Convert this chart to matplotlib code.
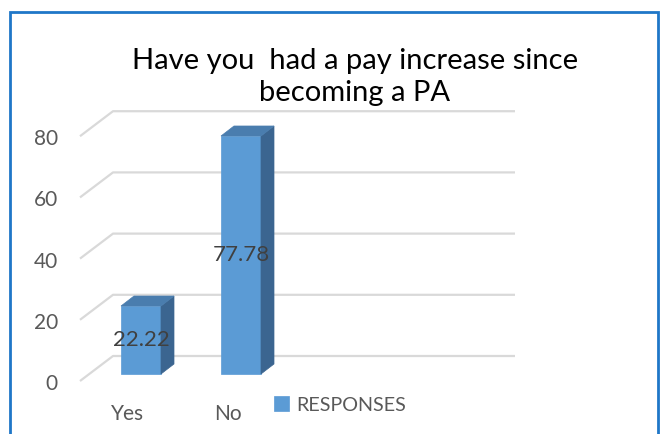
import matplotlib.pyplot as plt
from matplotlib.patches import Polygon, Rectangle

categories = ['Yes', 'No']
responses = [22.22, 77.78]
yticks = [0, 20, 40, 60, 80]
series_name = 'RESPONSES'
title = 'Have you  had a pay increase since\nbecoming a PA'

plt.rcParams['font.family'] = ['Lato', 'DejaVu Sans']

W, H = 665, 434
fig = plt.figure(figsize=(W / 100, H / 100), dpi=100)
ax = fig.add_axes([0, 0, 1, 1])

# x in category units (100 px each), y in value units (3.06 px each)
px_x, px_y = 100.0, 3.06
x0_px, y0_px = 141, 374
ax.set_xlim(-x0_px / px_x, (W - x0_px) / px_x)
ax.set_ylim(-(H - y0_px) / px_y, y0_px / px_y)
ax.axis('off')

front = '#5B9BD5'
top_c = '#4A7DAE'
side_c = '#3B6590'
grid_c = '#D9D9D9'

# 3d depth offsets
dx, dy = 0.13, 10 / px_y
bw = 0.4

# floor / walls gridlines
fx, bx, rx = -0.61, -0.28, 3.74
f_off, b_off = -2.29, 5.88
for v in yticks:
    ax.plot([fx, bx, rx], [v + f_off, v + b_off, v + b_off], color=grid_c, lw=1.6, zorder=1,
            solid_capstyle='butt')
    ax.text(-0.83, v + f_off - 1.0, str(v), ha='right', va='center', fontsize=15, color='#595959')

bars = ax.bar(range(len(categories)), responses, width=bw, color=front, zorder=3,
              label=series_name, edgecolor=front, linewidth=0.5)
for i, v in enumerate(responses):
    l, r = i - bw / 2, i + bw / 2
    ax.add_patch(Polygon([(r, 0), (r + dx, dy), (r + dx, v + dy), (r, v)], closed=True,
                         facecolor=side_c, edgecolor=side_c, lw=0.5, zorder=3))
    ax.add_patch(Polygon([(l, v), (l + dx, v + dy), (r + dx, v + dy), (r, v)], closed=True,
                         facecolor=top_c, edgecolor=top_c, lw=0.5, zorder=3))
    ax.text(i, v / 2, f'{v:.2f}', ha='center', va='center', fontsize=16, color='#404040', zorder=4)
    ax.text(i - 0.13, -13.0, categories[i], ha='center', va='center', fontsize=15, color='#595959')

ax.text(355 / px_x - x0_px / px_x, (y0_px - 77) / px_y, title, ha='center', va='center',
        fontsize=21, color='black', linespacing=1.3)

leg = ax.legend(loc='center left', bbox_to_anchor=(256 / W, 1 - 405 / H), bbox_transform=fig.transFigure,
                frameon=False, fontsize=14.2, handlelength=0.75, handleheight=0.75, handletextpad=0.4)
for t in leg.get_texts():
    t.set_color('#595959')

# chart frame
fig.patches.append(Rectangle((10 / W, -0.1), 648 / W, 1.1 - 12 / H, transform=fig.transFigure,
                             fill=False, edgecolor='#1F77C8', lw=2, zorder=10))

fig.savefig('out.png', dpi=100)
